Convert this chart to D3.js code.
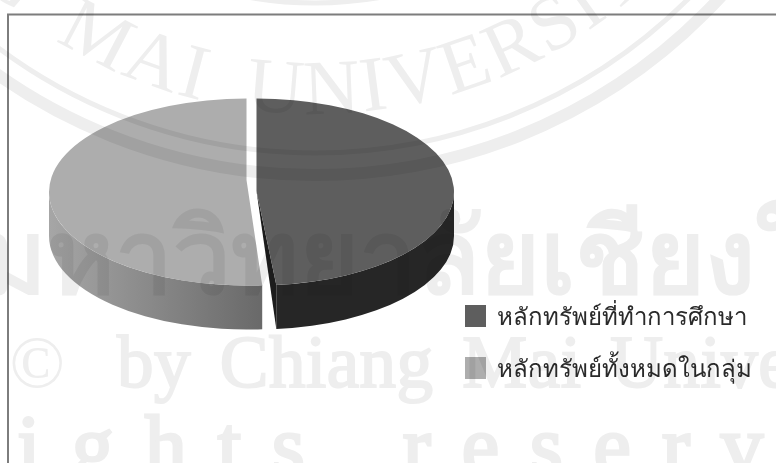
<!DOCTYPE html>
<html><head><meta charset="utf-8">
<script src="https://cdn.jsdelivr.net/npm/d3@7"></script>
<style>html,body{margin:0;padding:0;background:#fff;overflow:hidden}svg{display:block}</style>
</head><body><svg id="c" width="776" height="463"></svg>
<script>
const categories = ["หลักทรัพย์ที่ทำการศึกษา", "หลักทรัพย์ทั้งหมดในกลุ่ม"];
const values = [48.4, 51.6];
const topColors = ["#5e5e5e", "#adadad"];
const wmTitle = "มหาวิทยาลัยเชียงใหม่";
const wmCopy = "Copyright ©";
const wmLine1 = "by Chiang Mai University";
const wmLine2 = "All rights reserved";
const wmArc = "CHIANG MAI UNIVERSITY";

const svg = d3.select("#c");
const cx = 251.5, cy = 192, rx = 197.5, ry = 93.5, depth = 44, explode = 5;
const xs = d3.scaleLinear().domain([-1, 1]).range([-rx, rx]);
const ys = d3.scaleLinear().domain([-1, 1]).range([-ry, ry]);
const pie = d3.pie().sort(null).startAngle(0).endAngle(2 * Math.PI);
const arcs = pie(values);
const pt = a => [xs(Math.sin(a)), ys(-Math.cos(a))];

const defs = svg.append("defs");
const g1 = defs.append("linearGradient").attr("id", "wallLight");
g1.append("stop").attr("offset", "0%").attr("stop-color", "#a6a6a6");
g1.append("stop").attr("offset", "100%").attr("stop-color", "#696969");

svg.append("path").attr("d", "M8,463V14.5H776").attr("fill", "none").attr("stroke", "#7d7d7d").attr("stroke-width", 2);

const wallColors = ["#262626", "url(#wallLight)"];
const faceColor = "#1c1c1c";
const apexLift = [-1, -12];   // the slices' tips do not share a level in the tilted view
const startTrim = [0, 1.2 * Math.PI / 180];

arcs.forEach((d, i) => {
  const mid = (d.startAngle + d.endAngle) / 2;
  const g = svg.append("g").attr("transform", `translate(${cx + explode * Math.sin(mid)},${cy})`);
  const s = d.startAngle + startTrim[i], t = d.endAngle;
  const a0 = Math.max(s, Math.PI / 2), a1 = Math.min(t, 3 * Math.PI / 2);
  const p0 = pt(a0), p1 = pt(a1);
  g.append("path").attr("fill", wallColors[i])
    .attr("d", `M${p0}A${rx},${ry} 0 0 1 ${p1}L${p1[0]},${p1[1] + depth}A${rx},${ry} 0 0 0 ${p0[0]},${p0[1] + depth}Z`);
  const apex = [0, apexLift[i]], ps = pt(s), pe = pt(t);
  if (i === 0) {
    g.append("path").attr("fill", faceColor)
      .attr("d", `M${apex}L${pe}L${pe[0]},${pe[1] + depth}Z`);
  }
  const large = t - s > Math.PI ? 1 : 0;
  g.append("path").attr("fill", topColors[i])
    .attr("d", `M${apex}L${ps}A${rx},${ry} 0 ${large} 1 ${pe}Z`);
});

// legend
const lg = svg.append("g").selectAll("g").data(categories).join("g")
  .attr("transform", (d, i) => `translate(465,${305 + i * 52})`);
lg.append("rect").attr("width", 21).attr("height", 22).attr("fill", (d, i) => topColors[i]);
lg.append("text").attr("x", 32).attr("y", 20).attr("font-family", "'Noto Sans','Liberation Sans',sans-serif")
  .attr("font-size", 24).attr("fill", "#2a2a2a").text(d => d);

// watermark, multiplied over everything
const wmFill = "#eeeeee";
const wm = svg.append("g").style("mix-blend-mode", "multiply").attr("fill", wmFill);
const wcx = 315, wcy = -376;
[[379, 5], [529, 5], [551, 12]].forEach(([r, w]) =>
  wm.append("circle").attr("cx", wcx).attr("cy", wcy).attr("r", r).attr("fill", "none").attr("stroke", wmFill).attr("stroke-width", w));
defs.append("path").attr("id", "wmArcPath")
  .attr("d", `M${wcx - 490},${wcy}A490,490 0 0 0 ${wcx + 490},${wcy}`);
wm.append("text").attr("font-family", "'Liberation Serif',serif").attr("font-size", 78)
  .attr("letter-spacing", 3).attr("word-spacing", 20)
  .append("textPath").attr("href", "#wmArcPath").attr("startOffset", "8.6%").text(wmArc);
wm.append("text").attr("x", -21).attr("y", 293).attr("font-family", "'Noto Sans','Liberation Sans',sans-serif")
  .attr("font-weight", 700).attr("font-size", 103).text(wmTitle);
wm.append("text").attr("x", 65).attr("y", 387).attr("text-anchor", "end").attr("font-family", "'Liberation Serif',serif")
  .attr("font-size", 73).text(wmCopy);
wm.append("text").attr("x", 117).attr("y", 387).attr("font-family", "'Liberation Serif',serif")
  .attr("font-size", 73).attr("letter-spacing", 0.5).attr("word-spacing", 10)
  .attr("stroke", wmFill).attr("stroke-width", 2).attr("paint-order", "stroke").text(wmLine1);
wm.append("text").attr("x", -309).attr("y", 474).attr("font-family", "'Liberation Serif',serif")
  .attr("font-size", 84).attr("letter-spacing", 31).attr("word-spacing", 15)
  .attr("stroke", wmFill).attr("stroke-width", 3).text(wmLine2);
</script></body></html>
